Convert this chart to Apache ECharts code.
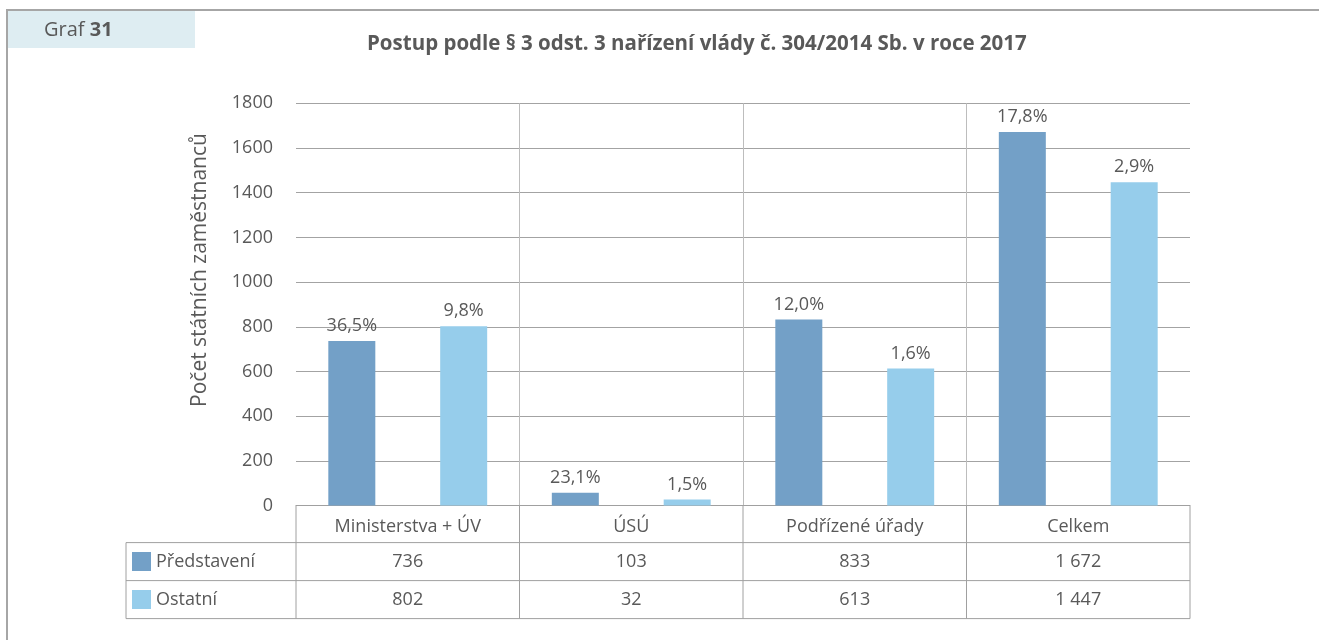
<!DOCTYPE html>
<html>
<head>
<meta charset="utf-8">
<title>Graf 31</title>
<script src="https://cdn.jsdelivr.net/npm/echarts@6/dist/echarts.min.js"></script>
<style>
html, body { margin: 0; padding: 0; background: #fff; }
#chart { width: 1319px; height: 640px; }
</style>
</head>
<body>
<div id="chart"></div>
<script>
// data
var categories = ['Ministerstva + ÚV', 'ÚSÚ', 'Podřízené úřady', 'Celkem'];
var seriesNames = ['Představení', 'Ostatní'];
// values printed in the data table
var tablePredstaveni = ['736', '103', '833', '1 672'];
var tableOstatni = ['802', '32', '613', '1 447'];
// bar heights as drawn in the chart
var barPredstaveni = [736, 58, 833, 1672];
var barOstatni = [802, 27, 613, 1447];
// percentage labels above bars
var pctPredstaveni = ['36,5%', '23,1%', '12,0%', '17,8%'];
var pctOstatni = ['9,8%', '1,5%', '1,6%', '2,9%'];
// y axis ticks
var yMin = 0, yMax = 1800, yStep = 200;

var textColor = '#595959';
var fontFamily = '"Open Sans", sans-serif';
var colors = ['#73a0c7', '#96cdeb'];

var myChart = echarts.init(document.getElementById('chart'));

function withLabels(values, labels) {
	return values.map(function (v, i) {
		return { value: v, label: { formatter: labels[i] } };
	});
}

var option = {
	animation: false,
	color: colors,
	title: {
		text: 'Postup podle § 3 odst. 3 nařízení vlády č. 304/2014 Sb. v roce 2017',
		left: 367,
		top: 34,
		padding: 0,
		textStyle: {
			color: textColor,
			fontFamily: fontFamily,
			fontWeight: 'bold',
			fontSize: 20.5
		}
	},
	legend: {
		orient: 'vertical',
		left: 132,
		top: 552,
		padding: 0,
		itemWidth: 19,
		itemHeight: 19,
		itemGap: 19,
		icon: 'rect',
		selectedMode: false,
		data: seriesNames,
		textStyle: { color: textColor, fontFamily: fontFamily, fontSize: 18 }
	},
	grid: {
		left: 296,
		right: 129,
		top: 103.3,
		bottom: 134.4,
		outerBoundsMode: 'none'
	},
	xAxis: {
		type: 'category',
		data: categories,
		axisTick: { show: false },
		axisLine: { show: true, lineStyle: { color: '#a0a0a0', width: 1 } },
		axisLabel: {
			color: textColor,
			fontFamily: fontFamily,
			fontSize: 18,
			margin: 21,
			verticalAlign: 'middle',
			interval: 0
		},
		splitLine: {
			show: true,
			showMinLine: false,
			showMaxLine: false,
			lineStyle: { color: '#bdbdbd', width: 1 }
		}
	},
	yAxis: {
		type: 'value',
		min: yMin,
		max: yMax,
		interval: yStep,
		axisLine: { show: false },
		axisTick: { show: false },
		axisLabel: {
			color: textColor,
			fontFamily: fontFamily,
			fontSize: 18,
			margin: 23,
			formatter: function (v) { return String(v); }
		},
		splitLine: { lineStyle: { color: '#a3a3a3', width: 1 } }
	},
	series: [{
		name: seriesNames[0],
		type: 'bar',
		barWidth: 47,
		barGap: '138%',
		data: withLabels(barPredstaveni, pctPredstaveni),
		label: {
			show: true,
			position: 'top',
			distance: 6,
			color: textColor,
			fontFamily: fontFamily,
			fontSize: 18
		}
	}, {
		name: seriesNames[1],
		type: 'bar',
		barWidth: 47,
		data: withLabels(barOstatni, pctOstatni),
		label: {
			show: true,
			position: 'top',
			distance: 6,
			color: textColor,
			fontFamily: fontFamily,
			fontSize: 18
		}
	}]
};

myChart.setOption(option);

// data table and frame, placed from the chart's own scales
var centers = categories.map(function (c) {
	return myChart.convertToPixel({ xAxisIndex: 0 }, c);
});
var band = centers[1] - centers[0];
var yZero = myChart.convertToPixel({ yAxisIndex: 0 }, yMin);
var leftEdge = centers[0] - band / 2;
var rightEdge = centers[centers.length - 1] + band / 2;
var row1 = yZero + 37;
var row2 = row1 + 38;
var row3 = row2 + 38;
var legendLeft = 126;
var lineColor = '#a0a0a0';

function hline(x1, x2, y) {
	return { type: 'line', silent: true, shape: { x1: x1, y1: y, x2: x2, y2: y },
		style: { stroke: lineColor, lineWidth: 1 } };
}
function vline(x, y1, y2) {
	return { type: 'line', silent: true, shape: { x1: x, y1: y1, x2: x, y2: y2 },
		style: { stroke: lineColor, lineWidth: 1 } };
}
function cellText(x, y, t) {
	return { type: 'text', silent: true, x: x, y: y,
		style: { text: t, fill: textColor, font: '18px ' + fontFamily, align: 'center', verticalAlign: 'middle' } };
}

var graphics = [];
// Graf label box
graphics.push({ type: 'rect', silent: true, shape: { x: 7, y: 10, width: 188, height: 38 }, style: { fill: '#deedf2' } });
graphics.push({ type: 'text', silent: true, x: 44, y: 30,
	style: { text: '{n|Graf }{b|31}', verticalAlign: 'middle',
		rich: {
			n: { fill: textColor, font: '20px ' + fontFamily },
			b: { fill: textColor, font: 'bold 20px ' + fontFamily }
		} } });
// outer frame
graphics.push({ type: 'polyline', silent: true, shape: { points: [[7, 640], [7, 10], [1319, 10]] },
	style: { stroke: '#a6a6a6', lineWidth: 2, fill: null } });
// y axis name
graphics.push({ type: 'text', silent: true, x: 200, y: 270, rotation: Math.PI / 2,
	style: { text: 'Počet státních zaměstnanců', fill: textColor, font: '21px ' + fontFamily,
		align: 'center', verticalAlign: 'middle' } });

// table lines
graphics.push(hline(legendLeft, rightEdge, row1));
graphics.push(hline(legendLeft, rightEdge, row2));
graphics.push(hline(legendLeft, rightEdge, row3));
graphics.push(vline(legendLeft, row1, row3));
for (var i = 0; i <= categories.length; i++) {
	var x = leftEdge + band * i;
	graphics.push(vline(x, yZero, row3));
}
// table values
for (var j = 0; j < categories.length; j++) {
	graphics.push(cellText(centers[j], (row1 + row2) / 2, tablePredstaveni[j]));
	graphics.push(cellText(centers[j], (row2 + row3) / 2, tableOstatni[j]));
}

myChart.setOption({ graphic: graphics });
</script>
</body>
</html>
